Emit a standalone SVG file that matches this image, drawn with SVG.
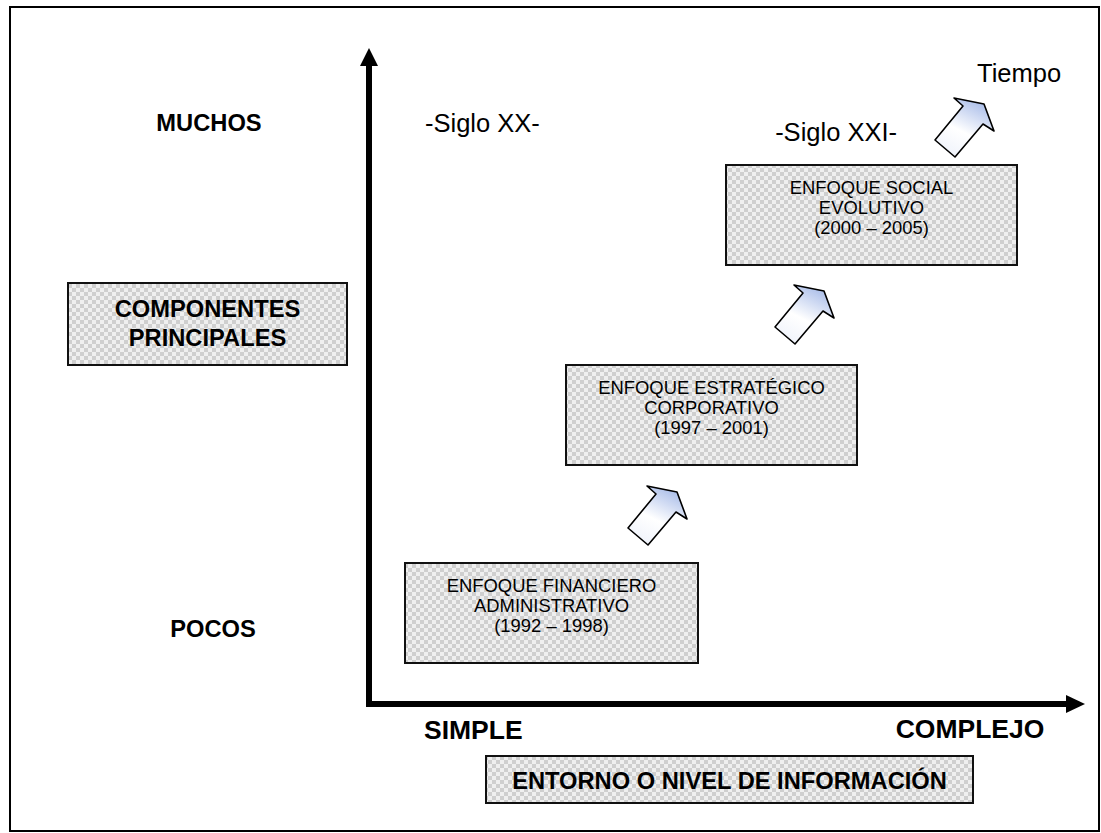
<svg xmlns="http://www.w3.org/2000/svg" width="1101" height="833" viewBox="0 0 1101 833">
  <defs>
    <!-- fine checkered fill used by all boxes -->
    <pattern id="checker" width="8" height="8" patternUnits="userSpaceOnUse">
      <rect width="8" height="8" fill="#efefef"/>
      <rect width="4" height="4" fill="#cfcfcf"/>
      <rect x="4" y="4" width="4" height="4" fill="#cfcfcf"/>
    </pattern>
    <linearGradient id="arrowFill" x1="0.7" y1="0" x2="0.2" y2="1">
      <stop offset="0" stop-color="#a7bbe8"/>
      <stop offset="0.55" stop-color="#ffffff"/>
      <stop offset="1" stop-color="#eef2fb"/>
    </linearGradient>
    <!-- block arrow pointing up-right, origin at lower-left corner of the shaft -->
    <path id="blockArrow" d="M0,0 L20,17 L48,-16 L59,-9 L49,-36 L19,-42 L28,-34 Z"/>
    <style>
      .box { fill: url(#checker); stroke: #111; stroke-width: 2; }
      .t { font-family: "Liberation Sans", Arial, sans-serif; fill: #000; }
      .bold { font-weight: bold; font-size: 23.7px; }
      .bold-lg { font-weight: bold; font-size: 26.5px; }
      .box-text { font-size: 18.4px; text-anchor: middle; }
      .label { font-size: 25.5px; }
      .axis { fill: none; stroke: #000; stroke-width: 6; stroke-linejoin: miter; }
      .arrow { fill: url(#arrowFill); stroke: #000; stroke-width: 1.6; stroke-linejoin: round; }
    </style>
  </defs>

  <rect width="1101" height="833" fill="#ffffff"/>
  <!-- outer frame -->
  <rect x="10" y="7" width="1089" height="824" fill="none" stroke="#000" stroke-width="2"/>

  <!-- axes and progression arrows -->
  <g id="connectors">
    <path class="axis" d="M369,64 V704 H1068"/>
    <polygon points="369,48 360,66 378,66" fill="#000"/>
    <polygon points="1085,704 1066,695 1066,713" fill="#000"/>
    <use href="#blockArrow" class="arrow" transform="translate(628,528)"/>
    <use href="#blockArrow" class="arrow" transform="translate(775,327)"/>
    <use href="#blockArrow" class="arrow" transform="translate(935,140)"/>
  </g>

  <g id="axis-labels">
    <text class="t bold" x="209" y="131" text-anchor="middle">MUCHOS</text>
    <text class="t bold" x="213" y="637" text-anchor="middle">POCOS</text>
    <text class="t bold-lg" x="424" y="739">SIMPLE</text>
    <text class="t bold-lg" x="970" y="738" text-anchor="middle">COMPLEJO</text>
  </g>

  <g id="era-labels">
    <text class="t label" x="425" y="132">-Siglo XX-</text>
    <text class="t label" x="897" y="141" text-anchor="end">-Siglo XXI-</text>
    <text class="t label" x="977" y="82">Tiempo</text>
  </g>

  <g id="componentes">
    <rect class="box" x="68" y="283" width="279" height="82"/>
    <text class="t bold" x="207.5" y="317" text-anchor="middle">COMPONENTES</text>
    <text class="t bold" x="207.5" y="346" text-anchor="middle">PRINCIPALES</text>
  </g>

  <g id="enfoque-financiero">
    <rect class="box" x="405" y="563" width="293" height="100"/>
    <text class="t box-text" x="551.5" y="592">ENFOQUE FINANCIERO</text>
    <text class="t box-text" x="551.5" y="612">ADMINISTRATIVO</text>
    <text class="t box-text" x="551.5" y="632">(1992 – 1998)</text>
  </g>

  <g id="enfoque-estrategico">
    <rect class="box" x="566" y="365" width="291" height="100"/>
    <text class="t box-text" x="711.5" y="394">ENFOQUE ESTRATÉGICO</text>
    <text class="t box-text" x="711.5" y="414">CORPORATIVO</text>
    <text class="t box-text" x="711.5" y="434">(1997 – 2001)</text>
  </g>

  <g id="enfoque-social">
    <rect class="box" x="726" y="165" width="291" height="100"/>
    <text class="t box-text" x="871.5" y="194">ENFOQUE SOCIAL</text>
    <text class="t box-text" x="871.5" y="214">EVOLUTIVO</text>
    <text class="t box-text" x="871.5" y="234">(2000 – 2005)</text>
  </g>

  <g id="entorno">
    <rect class="box" x="486" y="756" width="487" height="47"/>
    <text class="t bold" x="729.5" y="789" text-anchor="middle">ENTORNO O NIVEL DE INFORMACIÓN</text>
  </g>
</svg>
